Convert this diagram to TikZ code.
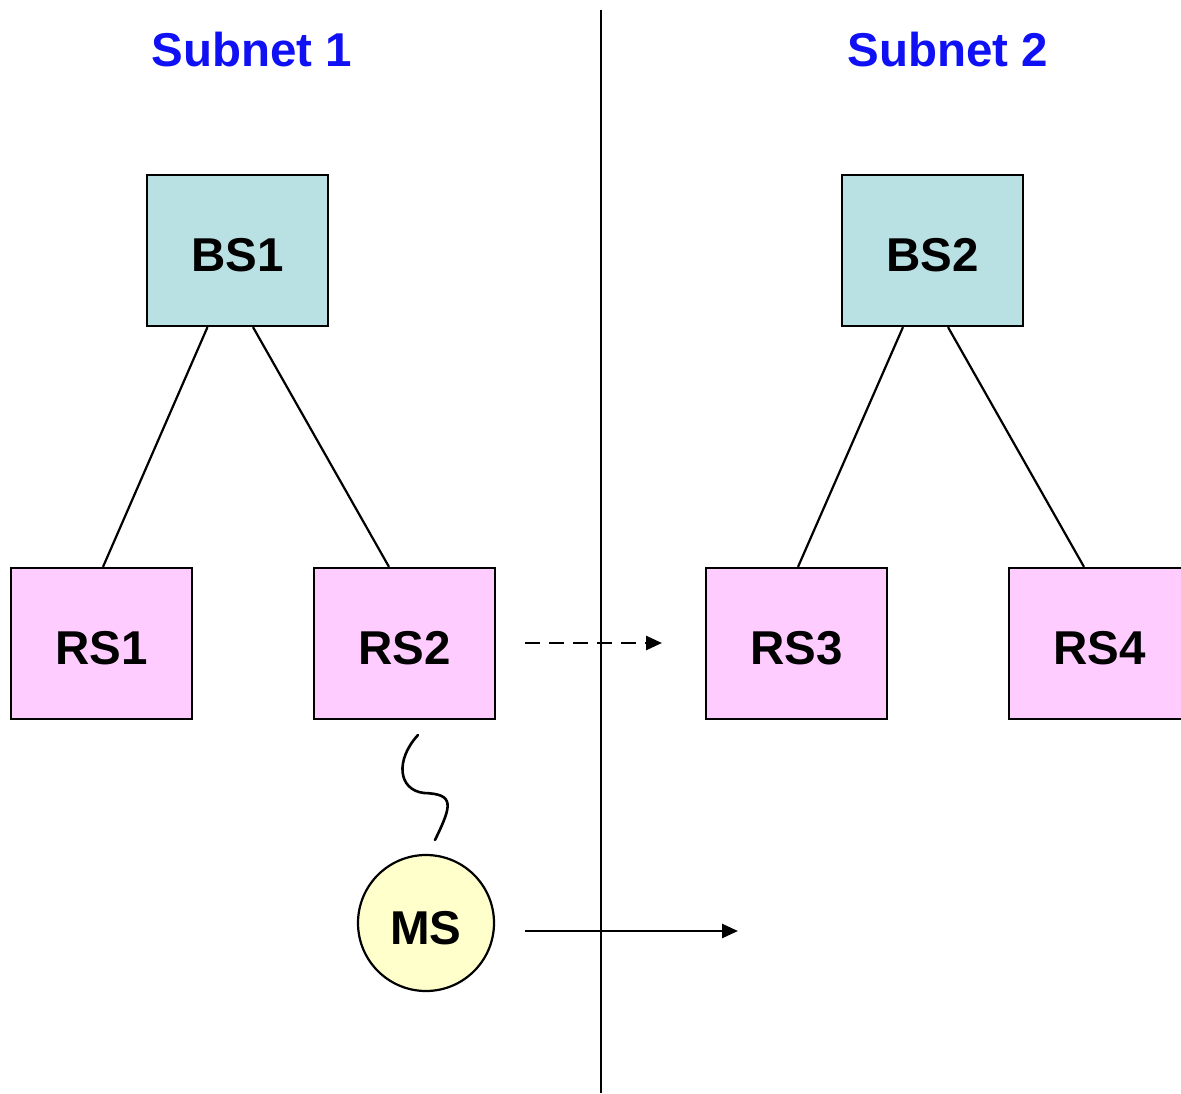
\documentclass[tikz,border=0pt]{standalone}
\usepackage{fontspec}
\setmainfont{Liberation Sans}
\usetikzlibrary{arrows.meta}
\definecolor{bsfill}{RGB}{185,224,227}
\definecolor{rsfill}{RGB}{255,204,255}
\definecolor{msfill}{RGB}{255,255,204}
\definecolor{titleblue}{RGB}{16,16,245}
\begin{document}
\begin{tikzpicture}[x=1pt,y=-1pt,
  every node/.style={font=\fontsize{47.5}{50}\selectfont\bfseries},
  lowtext/.style={text height=42pt, text depth=0pt},
  bsbox/.style={draw, line width=2.2pt, fill=bsfill, minimum width=181pt, minimum height=151pt, inner sep=0pt, lowtext},
  rsbox/.style={draw, line width=2.2pt, fill=rsfill, minimum width=181pt, minimum height=151pt, inner sep=0pt, lowtext},
  msnode/.style={draw, line width=2.2pt, fill=msfill, circle, minimum size=136pt, inner sep=0pt, lowtext},
  title/.style={text=titleblue},
  link/.style={line width=2.2pt},
  arr/.style={line width=2.6pt, -{Triangle[length=16pt,width=14pt]}}]
\useasboundingbox (0,0) rectangle (1181,1094);
\begin{scope}
\clip (0,0) rectangle (1181,1094);
\node[title] (t1) at (252,50) {Subnet 1};
\node[title] (t2) at (948,50) {Subnet 2};
\coordinate (vtop) at (601,10);
\coordinate (vbot) at (601,1093);
\draw[line width=2.6pt] (vtop) -- (vbot);
\node[bsbox] (bs1) at (237.5,250.5) {BS1};
\node[bsbox] (bs2) at (932.5,250.5) {BS2};
\node[rsbox] (rs1) at (101.5,643.5) {RS1};
\node[rsbox] (rs2) at (404.5,643.5) {RS2};
\node[rsbox] (rs3) at (796.5,643.5) {RS3};
\node[rsbox] (rs4) at (1099.5,643.5) {RS4};
\node[msnode] (ms) at (426,923) {MS};
\draw[link] ([xshift=-30pt]bs1.south) -- ([xshift=1.5pt]rs1.north);
\draw[link] ([xshift=15.5pt]bs1.south) -- ([xshift=-15.5pt]rs2.north);
\draw[link] ([xshift=-29.5pt]bs2.south) -- ([xshift=1.5pt]rs3.north);
\draw[link] ([xshift=15.5pt]bs2.south) -- ([xshift=-15.5pt]rs4.north);
\coordinate (d1) at (525,643);
\coordinate (d2) at (662,643);
\draw[arr, dash pattern=on 15pt off 9pt] (d1) -- (d2);
\coordinate (s1) at (525,931);
\coordinate (s2) at (738,931);
\draw[arr] (s1) -- (s2);
\coordinate (w1) at (418,735);
\coordinate (w2) at (424,793);
\coordinate (w3) at (435,840);
\draw[line width=2.6pt, line cap=round] (w1) .. controls (395,760) and (398,790) .. (w2) .. controls (455,794) and (452,805) .. (w3);
\end{scope}
\end{tikzpicture}
\end{document}
